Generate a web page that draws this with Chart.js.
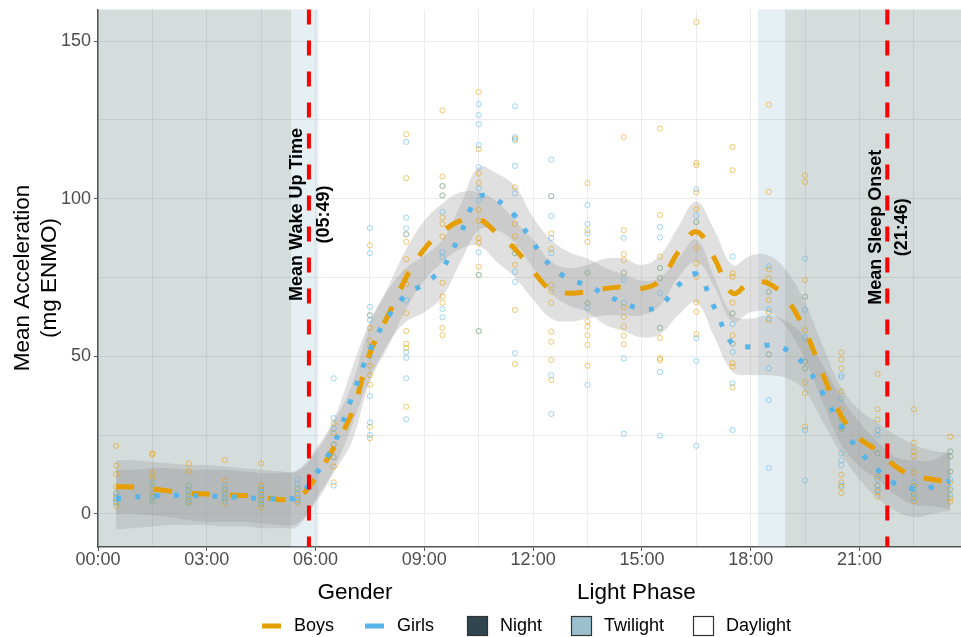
<!DOCTYPE html>
<html>
<head>
<meta charset="utf-8">
<title>Mean Acceleration</title>
<script src="https://cdn.jsdelivr.net/npm/chart.js@4.4.1/dist/chart.umd.min.js"></script>
<style>
  html, body { margin: 0; padding: 0; background: #fff; }
  canvas { display: block; }
</style>
</head>
<body>
<canvas id="courbe" width="961" height="637"></canvas>
<script>
// half hour grid of the smoothed curves
let hours = [0.5, 1, 1.5, 2, 2.5, 3, 3.5, 4, 4.5, 5, 5.5, 6, 6.5, 7, 7.5, 8, 8.5, 9, 9.5, 10, 10.5, 11, 11.5, 12,
             12.5, 13, 13.5, 14, 14.5, 15, 15.5, 16, 16.5, 17, 17.5, 18, 18.5, 19, 19.5, 20, 20.5, 21, 21.5, 22, 22.5, 23, 23.5];

let boysMean = [8.6, 8.5, 7.9, 7.2, 6.5, 6.3, 6.0, 5.8, 5.4, 4.6, 5.0, 11.5, 21, 32, 51, 63, 75, 84, 89.5, 93, 93.5, 89, 84, 77,
                71, 70, 70.5, 71.5, 72, 71.5, 74, 83, 89.5, 81, 70, 73.5, 73, 68, 58, 44, 31, 24, 20, 15, 12, 11, 10];
let boysUpper = [17, 17, 16.5, 16, 15.5, 15.5, 15, 14.5, 14, 13.5, 13.5, 19.5, 29, 41, 60, 72, 84, 93, 98.5, 102, 102, 99, 93, 87,
                 80, 78, 79, 81, 81, 79, 82, 91, 99, 90, 79, 82, 82, 77, 67, 53, 40, 33, 29, 25, 22, 20, 19.5];
let boysLower = [0, 0, -0.5, -1, -2, -2.5, -2.5, -2.5, -3, -3.5, -3, 3.5, 13, 23, 42, 53, 65, 74, 80, 84, 85, 80, 75, 68,
                 62, 61, 62, 63, 63, 63, 66, 75, 80, 72, 61, 64, 64, 59, 49, 35, 22, 15, 11, 6, 3, 2.5, 1.5];

let girlsMean = [4.8, 5.3, 5.6, 5.9, 5.8, 5.7, 5.5, 5.2, 4.9, 4.8, 5.5, 12.5, 22, 37, 52, 62.5, 69.5, 73, 78, 89, 100.5, 99.5, 94.5, 86,
                 78.5, 74.5, 72.5, 69.5, 67, 65, 66, 72.5, 76, 65.5, 54, 53, 53.5, 52, 47, 38, 28, 20, 14, 9.5, 8, 8.5, 10.5];
let girlsUpper = [14, 14, 14.5, 14.5, 14, 14, 14, 13.5, 13, 13, 14, 20.5, 30, 46, 61, 71, 78, 82, 87, 98, 110, 108, 104, 94,
                  87, 83, 81, 78, 76, 74, 75, 81, 87, 75, 63, 62, 63, 61, 56, 47, 37, 29, 23, 18, 17, 17, 20];
let girlsLower = [-5, -4.5, -4, -3.5, -3.5, -3.5, -4, -4, -4.5, -4.5, -4, 4.5, 14, 28, 43, 54, 61, 64, 69, 80, 90, 90, 86, 78,
                  70, 66, 64, 60, 58, 56, 57, 63, 67, 56, 45, 44, 44, 43, 39, 29, 19, 11, 5, 1, -1, 0, 1];

// individual means, one list per half hour slot
let dotHours = [0.5, 1.5, 2.5, 3.5, 4.5, 5.5, 6.5, 7.5, 8.5, 9.5, 10.5, 11.5, 12.5, 13.5, 14.5, 15.5, 16.5, 17.5, 18.5, 19.5, 20.5, 21.5, 22.5, 23.5];
let boysDots = [
  [21.6, 15.3, 12.6, 8.7, 6.5, 5, 3.8, 2.5],
  [19.2, 18.8, 13, 11.4, 9, 7, 5.5, 4],
  [16, 13.6, 9, 7, 5.5, 4, 3.5],
  [17, 10.6, 8, 6.5, 5, 3.5],
  [16, 9, 7.5, 6, 4.5, 3, 2],
  [8, 6, 4.5, 3.5],
  [28.8, 25.6, 22, 18, 15, 10],
  [85.2, 63, 59, 55, 53, 51, 47, 44, 41, 27.6, 24],
  [120.4, 106.5, 88.7, 86.3, 80.8, 76.5, 72.9, 63.7, 58, 54, 52.6, 34],
  [128, 107, 104, 101, 94, 92, 88, 73.3, 69, 67, 59, 56.7],
  [133.9, 115.7, 108, 105, 96.4, 93, 87.5, 86, 78.4, 75.8, 58],
  [119, 103.6, 92, 88, 84.7, 82.7, 79, 64.7, 47.5],
  [100.8, 89, 84, 72.6, 70.5, 67, 57.8, 54.6, 48.8, 42.5],
  [104.9, 90, 86.3, 76.5, 66.9, 61, 59.4, 56.7, 53.6, 47],
  [119.5, 90, 82.4, 80.5, 76.5, 65.6, 62.5, 59.4, 56.5, 53.8],
  [122.2, 94.8, 81.6, 78, 74.8, 59, 55.8, 49.4, 48.8],
  [156, 111.4, 110.6, 102, 96.7, 92.6, 84.3, 79.5, 75.2, 67.1, 64.1, 57],
  [116.4, 109, 76.3, 75.2, 67, 63.6, 56.7, 54, 47.8, 46.7, 40.2],
  [129.8, 102.2, 77.6, 74.7, 70.5, 67.8, 64, 61.5, 50.6],
  [107.4, 105.3, 74.2, 68.9, 58.3, 48.3, 46.2, 41.7, 38.3, 27.7],
  [51.2, 49, 46.2, 38.8, 33, 30, 27, 12.4, 10, 8.5, 6.6],
  [44.4, 33.2, 30, 19.2, 11.8, 9, 7, 5.5],
  [33.2, 22.6, 19.8, 18.2, 13.1, 9, 6, 4],
  [24.5, 19.8, 18.2, 13.4, 10, 7.5, 5, 3.9]
];
let girlsDots = [
  [6.6, 5.5, 4.5, 3.5],
  [10, 8, 6, 5, 4],
  [9, 7.5, 6, 4.5, 3.5],
  [9, 7.5, 6, 5, 4],
  [8, 7, 5.5, 4, 3],
  [11, 9.5, 8, 6.5, 5, 4],
  [43, 30.4, 27, 22, 18, 9],
  [90.7, 82.7, 65.7, 63, 61.5, 50, 37.4, 29, 25],
  [118, 94, 90.6, 88.7, 67.8, 51.3, 49.5, 43, 30],
  [104, 101, 95.8, 83, 81.5, 65, 62.4],
  [130, 126.5, 123.6, 117, 110, 103.3, 99.5, 83, 75.8, 58],
  [129.3, 119.5, 118.5, 110.4, 101.7, 94.5, 82.7, 76.8, 73.6, 51],
  [112.4, 100.8, 94.5, 87.5, 82.7, 44, 31.7],
  [98, 92, 89, 76.5, 66.9, 65.3, 40.9],
  [87.6, 76.5, 74.2, 66.9, 49.3, 25.4],
  [91, 87.7, 78, 74.8, 70, 59, 45, 24.8],
  [103, 94.6, 92.6, 76.3, 55.7, 48.5, 21.6],
  [81.6, 63.6, 60.2, 54, 51.4, 41.4, 26.6],
  [78.6, 70.5, 65, 62, 50.6, 46.2, 36.1, 14.5],
  [81, 68.9, 64.7, 56, 48.3, 46.2, 26.6, 10.6],
  [44, 43.3, 36.5, 30, 27, 19.2, 17, 15.5, 9],
  [26.6, 25, 19.2, 11, 9, 7.5],
  [10, 8, 6.5, 5],
  [19.8, 18.2, 13.4, 11, 8, 6]
];

// light phases (hours)
let phaseStart = [0, 5.33, 18.2, 18.95];
let phaseEnd = [5.33, 6.08, 18.95, 23.8];
let phaseType = ['Night', 'Twilight', 'Twilight', 'Night'];

// mean wake up / sleep onset
let markTimes = [5.817, 21.767];
let markLabels = [['Mean Wake Up Time', '(05:49)'], ['Mean Sleep Onset', '(21:46)']];
let markLabelY = [95, 90.9];

let xTickLabels = ['00:00', '03:00', '06:00', '09:00', '12:00', '15:00', '18:00', '21:00'];
let yTickLabels = ['0', '50', '100', '150'];

const FONT = '"Liberation Sans", Arial, Helvetica, sans-serif';
Chart.defaults.font.family = FONT;

const ORANGE = '#E69F00';
const BLUE = '#56B4E9';
const phaseFill = { Night: 'rgba(47,79,79,0.2)', Twilight: 'rgba(130,175,195,0.2)' };

function curve(ys) {
    return hours.map((h, i) => ({ x: h, y: ys[i] }));
}
function dots(lists) {
    let pts = [];
    dotHours.forEach((h, i) => lists[i].forEach(v => pts.push({ x: h, y: v })));
    return pts;
}

const ribbon = {
    borderWidth: 0, pointRadius: 0, tension: 0.4,
    backgroundColor: 'rgba(153,153,153,0.3)'
};

// shaded night / twilight bands under everything
const phasePlugin = {
    id: 'phases',
    beforeDatasetsDraw(chart) {
        const { ctx, chartArea: a, scales: { x } } = chart;
        ctx.save();
        phaseStart.forEach((s, i) => {
            const x0 = x.getPixelForValue(s);
            const x1 = x.getPixelForValue(phaseEnd[i]);
            ctx.fillStyle = phaseFill[phaseType[i]];
            ctx.fillRect(x0, a.top, x1 - x0, a.bottom - a.top);
        });
        ctx.restore();
    }
};

// red dashed lines + rotated labels
const markPlugin = {
    id: 'marks',
    afterDatasetsDraw(chart) {
        const { ctx, chartArea: a, scales: { x, y } } = chart;
        ctx.save();
        markTimes.forEach((t, i) => {
            const px = x.getPixelForValue(t);
            ctx.strokeStyle = '#ff0000';
            ctx.lineWidth = 4;
            ctx.setLineDash([15, 16]);
            ctx.beginPath();
            ctx.moveTo(px, a.top);
            ctx.lineTo(px, a.bottom);
            ctx.stroke();
            ctx.setLineDash([]);

            ctx.save();
            ctx.translate(px + 1, y.getPixelForValue(markLabelY[i]));
            ctx.rotate(-Math.PI / 2);
            ctx.font = 'bold 18px ' + FONT;
            ctx.fillStyle = '#000';
            ctx.textAlign = 'center';
            ctx.textBaseline = 'middle';
            ctx.fillText(markLabels[i][0], 0, -12.5);
            ctx.fillText(markLabels[i][1], 0, 14);
            ctx.restore();
        });
        ctx.restore();
    }
};

// y title and the two legends at the bottom
const legendPlugin = {
    id: 'legendes',
    afterDraw(chart) {
        const ctx = chart.ctx;
        ctx.save();
        ctx.fillStyle = '#000';
        ctx.textBaseline = 'middle';

        ctx.save();
        ctx.translate(36, 278);
        ctx.rotate(-Math.PI / 2);
        ctx.textAlign = 'center';
        ctx.font = '22.5px ' + FONT;
        ctx.fillText('Mean Acceleration', 0, -13.5);
        ctx.fillText('(mg ENMO)', 0, 13.5);
        ctx.restore();

        ctx.font = '22.5px ' + FONT;
        ctx.textAlign = 'center';
        ctx.fillText('Gender', 355, 593);
        ctx.textAlign = 'left';
        ctx.fillText('Light Phase', 577, 593);

        const rowY = 626;
        ctx.font = '18px ' + FONT;
        ctx.lineWidth = 5;
        ctx.strokeStyle = ORANGE;
        ctx.beginPath(); ctx.moveTo(262, rowY); ctx.lineTo(281, rowY); ctx.stroke();
        ctx.fillText('Boys', 294, rowY);
        ctx.strokeStyle = BLUE;
        ctx.beginPath(); ctx.moveTo(365, rowY); ctx.lineTo(384, rowY); ctx.stroke();
        ctx.fillText('Girls', 397, rowY);

        const boxes = [[467, '#2f4550', 'Night'], [571, '#9bbfcc', 'Twilight'], [693, '#ffffff', 'Daylight']];
        ctx.lineWidth = 1.2;
        ctx.strokeStyle = '#333';
        boxes.forEach(b => {
            ctx.fillStyle = b[1];
            ctx.fillRect(b[0], rowY - 10, 21, 20);
            ctx.strokeRect(b[0] + 0.5, rowY - 9.5, 20, 19);
            ctx.fillStyle = '#000';
            ctx.fillText(b[2], b[0] + 33, rowY);
        });
        ctx.restore();
    }
};

let ctx = document.getElementById('courbe').getContext('2d');

new Chart(ctx, {
    type: 'line',
    data: {
        datasets: [
            Object.assign({ label: 'boys upper', data: curve(boysUpper), fill: '+1', order: 10 }, ribbon),
            Object.assign({ label: 'boys lower', data: curve(boysLower), fill: false, order: 9 }, ribbon),
            Object.assign({ label: 'girls upper', data: curve(girlsUpper), fill: '+1', order: 8 }, ribbon),
            Object.assign({ label: 'girls lower', data: curve(girlsLower), fill: false, order: 7 }, ribbon),
            {
                label: 'Boys points', data: dots(boysDots), showLine: false, order: 6,
                pointRadius: 2.6, pointBorderWidth: 1,
                pointBackgroundColor: 'rgba(0,0,0,0)', pointBorderColor: 'rgba(230,159,0,0.55)'
            },
            {
                label: 'Girls points', data: dots(girlsDots), showLine: false, order: 5,
                pointRadius: 2.6, pointBorderWidth: 1,
                pointBackgroundColor: 'rgba(0,0,0,0)', pointBorderColor: 'rgba(86,180,233,0.55)'
            },
            {
                label: 'Boys', data: curve(boysMean), order: 2, tension: 0.4,
                borderColor: ORANGE, borderWidth: 5, borderDash: [18, 20], borderCapStyle: 'butt',
                pointRadius: 0, fill: false
            },
            {
                label: 'Girls', data: curve(girlsMean), order: 1, tension: 0.4,
                borderColor: BLUE, borderWidth: 5, borderDash: [5, 14.3], borderCapStyle: 'butt',
                pointRadius: 0, fill: false
            }
        ]
    },
    options: {
        responsive: false,
        animation: false,
        devicePixelRatio: 1,
        layout: { autoPadding: false, padding: { top: 9.5, right: 0, left: 0, bottom: 0 } },
        plugins: {
            legend: { display: false },
            tooltip: { enabled: false }
        },
        scales: {
            x: {
                type: 'linear', min: 0, max: 23.8,
                afterFit: s => { s.height = 90; s.paddingLeft = 0; s.paddingRight = 0; },
                border: { display: true, color: '#555', width: 1.5 },
                grid: {
                    color: '#ebebeb', lineWidth: 1, tickLength: 4,
                    tickColor: c => (c.tick && c.tick.value % 3 === 0) ? '#555' : 'rgba(0,0,0,0)'
                },
                ticks: {
                    stepSize: 1.5, includeBounds: false, autoSkip: false, maxRotation: 0, minRotation: 0,
                    padding: 0, color: '#4d4d4d', font: { size: 18, lineHeight: 1 },
                    callback: v => v % 3 === 0 ? xTickLabels[v / 3] : ''
                }
            },
            y: {
                min: -10.5, max: 160,
                afterFit: s => { s.width = 98; s.paddingTop = 0; s.paddingBottom = 0; },
                border: { display: true, color: '#555', width: 1.5 },
                grid: {
                    color: '#ebebeb', lineWidth: 1, tickLength: 4,
                    tickColor: c => (c.tick && c.tick.value % 50 === 0) ? '#555' : 'rgba(0,0,0,0)'
                },
                ticks: {
                    stepSize: 25, includeBounds: false, padding: 3,
                    color: '#4d4d4d', font: { size: 18 },
                    callback: v => v % 50 === 0 ? yTickLabels[v / 50] : ''
                }
            }
        }
    },
    plugins: [phasePlugin, markPlugin, legendPlugin]
});
</script>
</body>
</html>
